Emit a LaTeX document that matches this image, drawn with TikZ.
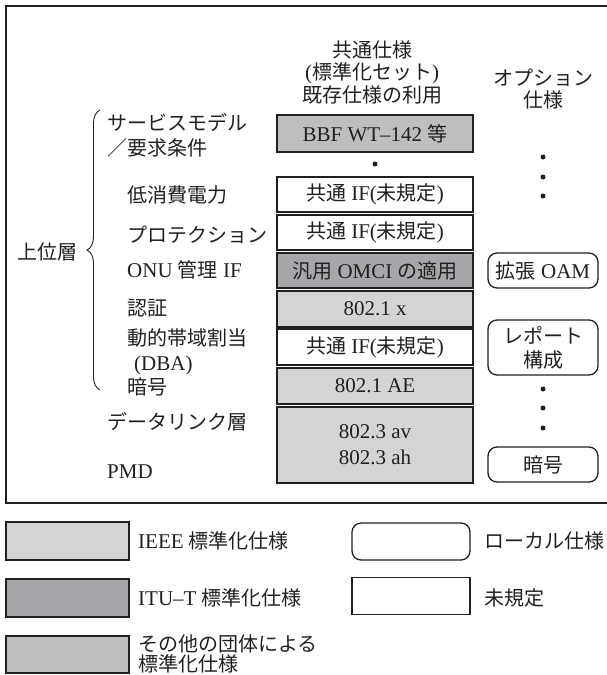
\documentclass[tikz,border=0pt]{standalone}
\usepackage{fontspec}
\setmainfont{Liberation Serif}
\newfontfamily\jpfont{Noto Sans CJK JP}
\usetikzlibrary{decorations.pathreplacing}
\definecolor{ink}{HTML}{231F20}
\definecolor{ieee}{HTML}{D3D4D6}
\definecolor{itut}{HTML}{A6A7AA}
\definecolor{other}{HTML}{BDBEC0}
\newcommand\jt[1]{{\jpfont\fontsize{20}{22.5}\selectfont #1}}
\begin{document}
\begin{tikzpicture}[x=1pt,y=-1pt,
  every node/.style={text=ink, font=\fontsize{21}{22.5}\selectfont},
  sbox/.style={draw=ink, line width=1.5pt, minimum width=196pt, inner sep=0pt, align=center},
  rbox/.style={draw=ink, line width=1.3pt, rounded corners=9pt, minimum width=110pt, inner sep=0pt, align=center},
  lbl/.style={anchor=west, inner sep=0pt, align=left},
  ctext/.style={inner sep=0pt, align=center},
  dotn/.style={circle, fill=ink, inner sep=0pt, minimum size=5pt},
  legbox/.style={draw=ink, line width=1.5pt, minimum width=123pt, minimum height=38pt, inner sep=0pt},
  legr/.style={draw=ink, line width=1.3pt, minimum width=118pt, minimum height=37pt, inner sep=0pt}]
\useasboundingbox (0,0) rectangle (606,675);
% outer frame
\draw[ink, line width=2.5pt] (607,6) -- (6,6) -- (6,503) -- (607,503);
% headers
\node[ctext] (h1) at (372,72) {\jt{共通仕様}\\(\jt{標準化セット})\\\jt{既存仕様の利用}};
\node[ctext] (h2) at (543,89) {\jt{オプション}\\\jt{仕様}};
% main column
\node[sbox, fill=other, minimum height=37pt] (bbf) at (375,133.5) {BBF WT--142 \jt{等}};
\node[dotn] (d0) at (375,164) {};
\node[sbox, fill=white, minimum height=35pt] (b1) at (375,194.5) {\jt{共通} IF(\jt{未規定})};
\node[sbox, fill=white, minimum height=35pt] (b2) at (375,232.5) {\jt{共通} IF(\jt{未規定})};
\node[sbox, fill=itut, minimum height=35pt] (omci) at (375,270.5) {\jt{汎用} OMCI \jt{の適用}};
\node[sbox, fill=ieee, minimum height=36pt] (x1) at (375,309) {802.1 x};
\node[sbox, fill=white, minimum height=36pt] (dba) at (375,347) {\jt{共通} IF(\jt{未規定})};
\node[sbox, fill=ieee, minimum height=36pt] (ae) at (375,386) {802.1 AE};
\node[sbox, fill=ieee, minimum height=76pt, font=\fontsize{21}{26}\selectfont] (p3) at (375,445) {802.3 av\\802.3 ah};
% option column
\node[dotn] (r1) at (543,157) {};
\node[dotn] (r2) at (543,177) {};
\node[dotn] (r3) at (543,196) {};
\node[rbox, minimum height=35pt] (oam) at (543,270.5) {\jt{拡張} OAM};
\node[rbox, minimum height=55pt, font=\fontsize{21}{24}\selectfont] (rep) at (543,347.5) {\jt{レポート}\\\jt{構成}};
\node[dotn] (r4) at (543,389) {};
\node[dotn] (r5) at (543,408) {};
\node[dotn] (r6) at (543,428) {};
\node[rbox, minimum height=35pt] (ango) at (543,464.5) {\jt{暗号}};
% left labels
\node[lbl, font=\fontsize{21}{25}\selectfont] (l1) at (107,135.5) {\jt{サービスモデル}\\\jt{／要求条件}};
\node[lbl] (l2) at (127,195) {\jt{低消費電力}};
\node[lbl] (l3) at (127,235) {\jt{プロテクション}};
\node[lbl] (l4) at (127,270) {ONU \jt{管理} IF};
\node[lbl] (l5) at (127,308) {\jt{認証}};
\node[lbl] (l6) at (127,338) {\jt{動的帯域割当}};
\node[lbl] (l7) at (134,365) {(DBA)};
\node[lbl] (l8) at (127,387) {\jt{暗号}};
\node[lbl] (l9) at (107,422) {\jt{データリンク層}};
\node[lbl] (l10) at (107,472) {PMD};
\node[ctext] (top) at (47,252) {\jt{上位層}};
% brace
\coordinate (bra) at (100,390);
\coordinate (brb) at (100,110);
\draw[ink, line width=0.9pt, decorate, decoration={brace, amplitude=13pt}] (bra) -- (brb);
% legend
\node[legbox, fill=ieee] (g1) at (67.5,541) {};
\node[lbl] (g1t) at (138,541) {IEEE \jt{標準化仕様}};
\node[legbox, fill=itut] (g2) at (67.5,598) {};
\node[lbl] (g2t) at (138,598) {ITU--T \jt{標準化仕様}};
\node[legbox, fill=other, minimum height=37pt] (g3) at (67.5,654.5) {};
\node[lbl, font=\fontsize{21}{20}\selectfont] (g3t) at (138,654) {\jt{その他の団体による}\\\jt{標準化仕様}};
\node[legr, rounded corners=9pt] (g4) at (411,541.5) {};
\node[lbl] (g4t) at (484,541) {\jt{ローカル仕様}};
\node[legr] (g5) at (411,596) {};
\node[lbl] (g5t) at (484,598) {\jt{未規定}};
\end{tikzpicture}
\end{document}
